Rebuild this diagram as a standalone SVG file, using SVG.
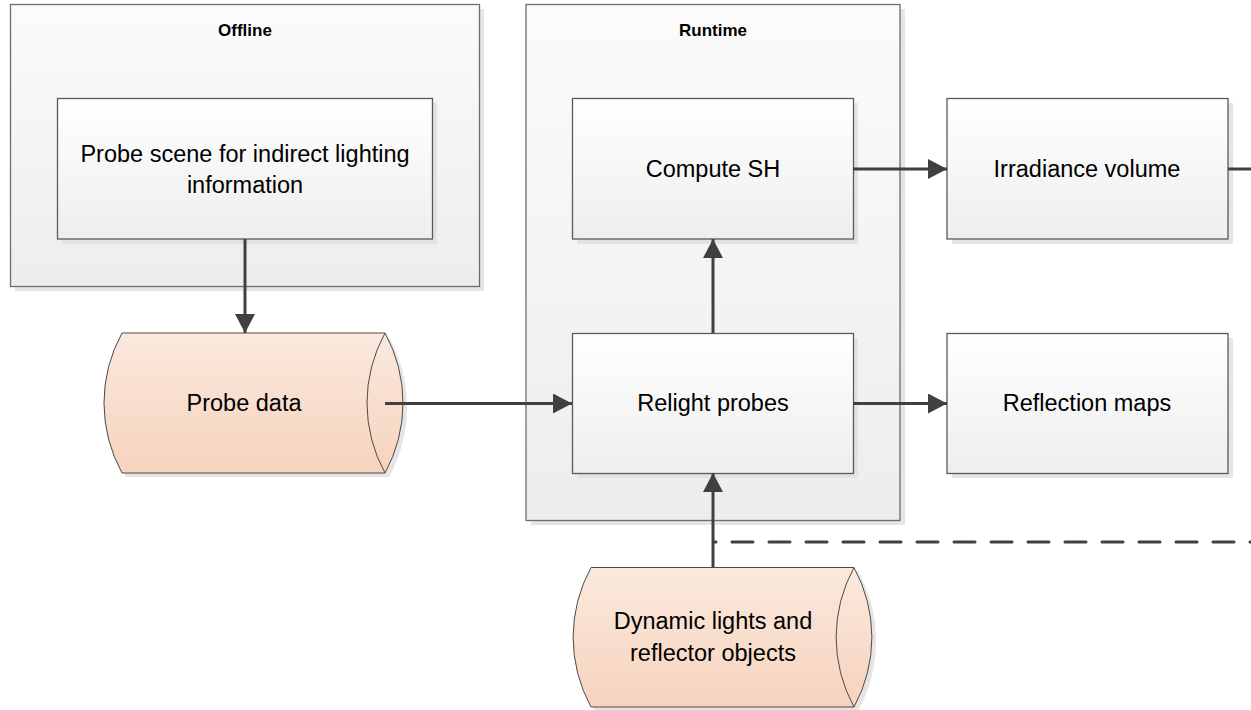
<svg xmlns="http://www.w3.org/2000/svg" width="1251" height="710" viewBox="0 0 1251 710">
<defs>
<linearGradient id="gBox" x1="0" y1="0" x2="0" y2="1"><stop offset="0" stop-color="#ffffff"/><stop offset="1" stop-color="#eeeeee"/></linearGradient>
<linearGradient id="gCont" x1="0" y1="0" x2="0" y2="1"><stop offset="0" stop-color="#fbfbfb"/><stop offset="1" stop-color="#ededed"/></linearGradient>
<linearGradient id="gCyl" x1="0" y1="0" x2="0" y2="1"><stop offset="0" stop-color="#fbe9de"/><stop offset="1" stop-color="#f6d3bd"/></linearGradient>
<marker id="arr" markerUnits="userSpaceOnUse" markerWidth="20" markerHeight="20" refX="19" refY="10" orient="auto" viewBox="0 0 20 20">
<path d="M0,0 L19,10 L0,20 Z" fill="#404040"/>
</marker>
<style>
.cont{fill:url(#gCont);stroke:#6e6e6e;stroke-width:1.3}
.box{fill:url(#gBox);stroke:#5a5a5a;stroke-width:1.3}
.sh{fill:#dedede;opacity:0.8}
.cyl{fill:url(#gCyl);stroke:#4a4a4a;stroke-width:1}
.t{font-family:"Liberation Sans",Arial,sans-serif;font-size:23.5px;fill:#000;text-anchor:middle}
.h{font-family:"Liberation Sans",Arial,sans-serif;font-size:17px;font-weight:bold;fill:#000;text-anchor:middle}
.c{fill:none;stroke:#404040;stroke-width:3}
</style>
</defs>

<g id="offline">
<rect class="sh" x="15" y="9" width="469" height="282"/>
<rect class="cont" x="10.5" y="4.5" width="469" height="282"/>
<text class="h" x="245" y="36">Offline</text>
</g>
<g id="runtime">
<rect class="sh" x="531" y="9" width="374" height="516"/>
<rect class="cont" x="526" y="4.5" width="374" height="516"/>
<text class="h" x="713" y="36">Runtime</text>
</g>

<g id="probe-scene">
<rect class="sh" x="62" y="103" width="375" height="141"/>
<rect class="box" x="57.5" y="98.5" width="375" height="140.5"/>
<text class="t" x="245" y="162">Probe scene for indirect lighting</text>
<text class="t" x="245" y="193">information</text>
</g>

<g id="compute-sh">
<rect class="sh" x="577" y="103" width="281" height="141"/>
<rect class="box" x="572.5" y="98.5" width="281" height="140.5"/>
<text class="t" x="713" y="177">Compute SH</text>
</g>

<g id="irradiance-volume">
<rect class="sh" x="952" y="103" width="281" height="141"/>
<rect class="box" x="947" y="98.5" width="281" height="140.5"/>
<text class="t" x="1087" y="177">Irradiance volume</text>
</g>

<g id="relight-probes">
<rect class="sh" x="577" y="338" width="281" height="140"/>
<rect class="box" x="572.5" y="333.5" width="281" height="140"/>
<text class="t" x="713" y="411">Relight probes</text>
</g>

<g id="reflection-maps">
<rect class="sh" x="952" y="338" width="281" height="140"/>
<rect class="box" x="947" y="333.5" width="281" height="140"/>
<text class="t" x="1087" y="411">Reflection maps</text>
</g>

<g id="probe-data">
<path class="sh" d="M126,337 L389,337 A145,145 0 0 1 389,477 L126,477 A145,145 0 0 1 126,337 Z"/>
<path class="cyl" d="M122,333 L385,333 A145,145 0 0 1 385,473 L122,473 A145,145 0 0 1 122,333 Z"/>
<path class="cyl" d="M385,333 A145,145 0 0 0 385,473" fill="none"/>
<text class="t" x="244" y="411">Probe data</text>
</g>

<g id="dynamic-lights">
<path class="sh" d="M595,571 L858,571 A145,145 0 0 1 858,711 L595,711 A145,145 0 0 1 595,571 Z"/>
<path class="cyl" d="M591,567.5 L854,567.5 A145,145 0 0 1 854,707 L591,707 A145,145 0 0 1 591,567.5 Z"/>
<path class="cyl" d="M854,567.5 A145,145 0 0 0 854,707" fill="none"/>
<text class="t" x="713" y="629">Dynamic lights and</text>
<text class="t" x="713" y="661">reflector objects</text>
</g>

<g id="connectors">
<line class="c" x1="245" y1="239" x2="245" y2="333" marker-end="url(#arr)"/>
<line class="c" x1="385" y1="403.5" x2="572" y2="403.5" marker-end="url(#arr)"/>
<line class="c" x1="713" y1="333" x2="713" y2="239" marker-end="url(#arr)"/>
<line class="c" x1="853" y1="169" x2="947" y2="169" marker-end="url(#arr)"/>
<line class="c" x1="853" y1="403.5" x2="947" y2="403.5" marker-end="url(#arr)"/>
<line class="c" x1="1228" y1="169" x2="1251" y2="169"/>
<line class="c" x1="713" y1="567" x2="713" y2="473" marker-end="url(#arr)"/>
<line class="c" x1="714" y1="542" x2="1251" y2="542" stroke-dasharray="21 16" stroke-dashoffset="19" stroke-linecap="round"/>
</g>
</svg>
